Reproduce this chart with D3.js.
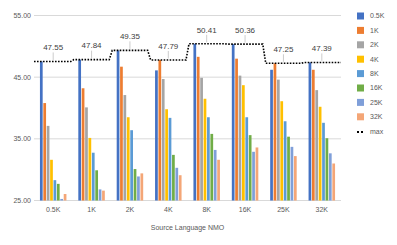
<!DOCTYPE html>
<html>
<head>
<meta charset="utf-8">
<script src="https://cdn.jsdelivr.net/npm/d3@7"></script>
<style>
  body { margin: 0; background: #fff; }
  text { font-family: "Liberation Sans", "DejaVu Sans", sans-serif; }
</style>
</head>
<body>
<div id="chart"></div>
<script>
// categories on the x axis (source language NMO size)
var categories = ["0.5K", "1K", "2K", "4K", "8K", "16K", "25K", "32K"];
// one series per target size
var seriesNames = ["0.5K", "1K", "2K", "4K", "8K", "16K", "25K", "32K"];
var s05 = [47.55, 47.84, 49.35, 46.10, 50.41, 50.36, 46.20, 47.39];
var s1  = [40.80, 43.20, 46.70, 47.79, 48.30, 48.00, 47.25, 46.20];
var s2  = [37.10, 40.10, 42.10, 44.70, 44.90, 45.25, 44.60, 42.90];
var s4  = [31.60, 35.15, 38.50, 39.80, 41.50, 43.70, 41.10, 40.20];
var s8  = [28.30, 32.75, 36.40, 38.40, 38.50, 38.50, 37.85, 37.60];
var s16 = [27.70, 29.90, 30.10, 32.40, 35.80, 35.60, 35.35, 35.10];
var s25 = [25.25, 26.80, 28.90, 30.30, 33.20, 32.90, 33.70, 32.65];
var s32 = [26.05, 26.60, 29.40, 29.10, 31.60, 33.60, 32.20, 31.00];
var maxVals = [47.55, 47.84, 49.35, 47.79, 50.41, 50.36, 47.25, 47.39];
var yTicks = [25, 35, 45, 55];
var colors = ["#4472C4", "#ED7D31", "#A5A5A5", "#FFC000", "#5B9BD5", "#70AD47", "#7F9FD9", "#F4A677"];

var seriesVals = [s05, s1, s2, s4, s8, s16, s25, s32];

var W = 397, H = 245;
var svg = d3.select("#chart").append("svg")
    .attr("width", W)
    .attr("height", H);

var x0 = d3.scaleBand().domain(categories).range([34, 341]);
var x1 = d3.scaleBand().domain(seriesNames).range([0, x0.bandwidth()])
    .paddingInner(0.2).paddingOuter(1.75);
var y = d3.scaleLinear().domain([25, 55]).range([200.5, 15.5]);

// gridlines
svg.append("g").selectAll("line")
    .data(yTicks)
  .enter().append("line")
    .attr("x1", 34).attr("x2", 341)
    .attr("y1", function(d) { return y(d); })
    .attr("y2", function(d) { return y(d); })
    .attr("stroke", "#D9D9D9")
    .attr("stroke-width", 1);

// y labels
svg.append("g").selectAll("text")
    .data(yTicks)
  .enter().append("text")
    .attr("x", 31)
    .attr("y", function(d) { return y(d); })
    .attr("dy", "0.35em")
    .attr("text-anchor", "end")
    .attr("font-size", 7)
    .attr("fill", "#595959")
    .text(function(d) { return d3.format(".2f")(d); });

// bars
seriesVals.forEach(function(vals, si) {
  svg.append("g").selectAll("rect")
      .data(vals)
    .enter().append("rect")
      .attr("x", function(d, i) { return x0(categories[i]) + x1(seriesNames[si]); })
      .attr("width", x1.bandwidth())
      .attr("y", function(d) { return y(d); })
      .attr("height", function(d) { return y(25) - y(d); })
      .attr("fill", colors[si]);
});

// max step line
var pts = [];
maxVals.forEach(function(v, i) {
  var xs = x0(categories[i]) + (i == 0 ? 0 : 1.5);
  var xe = x0(categories[i]) + x0.bandwidth() - (i == maxVals.length - 1 ? 0 : 1.5);
  pts.push([xs, y(v)]);
  pts.push([xe, y(v)]);
});
svg.append("path")
    .attr("d", d3.line()(pts))
    .attr("fill", "none")
    .attr("stroke", "#000")
    .attr("stroke-width", 1.6)
    .attr("stroke-dasharray", "1.6,1.4");

// leader lines + labels
var lab = svg.append("g");
maxVals.forEach(function(v, i) {
  var cx = x0(categories[i]) + x0.bandwidth() / 2;
  lab.append("line")
    .attr("x1", cx).attr("x2", cx)
    .attr("y1", y(v) - 9).attr("y2", y(v) - 1.5)
    .attr("stroke", "#BFBFBF")
    .attr("stroke-width", 0.8);
  lab.append("text")
    .attr("x", cx)
    .attr("y", y(v) - 14)
    .attr("dy", "0.35em")
    .attr("text-anchor", "middle")
    .attr("font-size", 8)
    .attr("fill", "#404040")
    .text(d3.format(".2f")(v));
});

// x labels
svg.append("g").selectAll("text")
    .data(categories)
  .enter().append("text")
    .attr("x", function(d) { return x0(d) + x0.bandwidth() / 2; })
    .attr("y", 210)
    .attr("dy", "0.35em")
    .attr("text-anchor", "middle")
    .attr("font-size", 7)
    .attr("fill", "#595959")
    .text(function(d) { return d; });

svg.append("text")
    .attr("x", 187.5)
    .attr("y", 228)
    .attr("dy", "0.35em")
    .attr("text-anchor", "middle")
    .attr("font-size", 7)
    .attr("fill", "#595959")
    .text("Source Language NMO");

// legend
var leg = svg.append("g");
seriesNames.forEach(function(name, i) {
  var ly = 16 + i * 14.4;
  leg.append("rect")
    .attr("x", 357).attr("y", ly - 3.5)
    .attr("width", 7).attr("height", 7)
    .attr("fill", colors[i]);
  leg.append("text")
    .attr("x", 370).attr("y", ly)
    .attr("dy", "0.35em")
    .attr("font-size", 7)
    .attr("fill", "#595959")
    .text(name);
});
var my = 16 + 8 * 14.4 + 0.8;
leg.append("line")
  .attr("x1", 357).attr("x2", 365)
  .attr("y1", my).attr("y2", my)
  .attr("stroke", "#000")
  .attr("stroke-width", 2)
  .attr("stroke-dasharray", "2,2");
leg.append("text")
  .attr("x", 370).attr("y", my)
  .attr("dy", "0.35em")
  .attr("font-size", 7)
  .attr("fill", "#595959")
  .text("max");
</script>
</body>
</html>
